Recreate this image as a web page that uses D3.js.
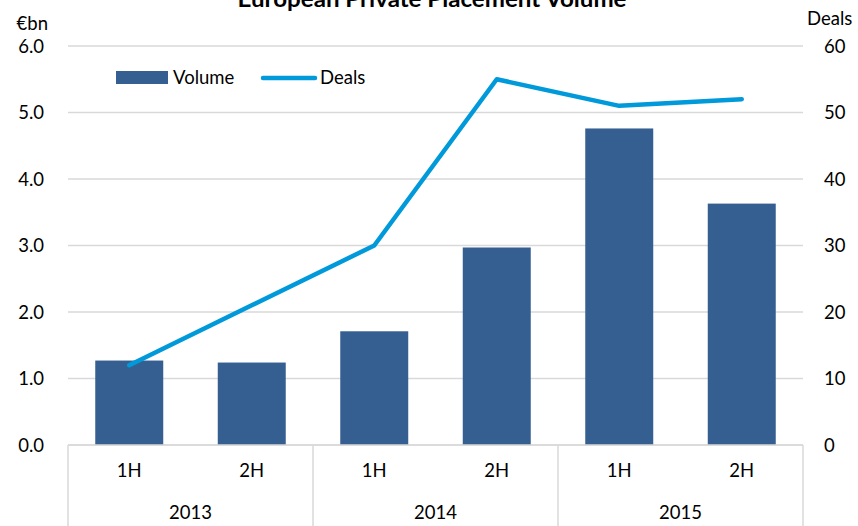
<!DOCTYPE html>
<html><head><meta charset="utf-8">
<script src="https://cdn.jsdelivr.net/npm/d3@7"></script>
<style>body{margin:0;background:#fff}svg{display:block}text{font-family:Lato,"Open Sans",sans-serif;fill:#000}</style>
</head><body><svg id="c" width="858" height="526"></svg>
<script>
const halves = ["1H","2H","1H","2H","1H","2H"];
const years = ["2013","2014","2015"];
const volume = [1.27, 1.24, 1.71, 2.97, 4.76, 3.63];
const deals = [12, 21, 30, 55, 51, 52];
const leftTicks = [0,1,2,3,4,5,6];
const rightTicks = [0,10,20,30,40,50,60];

const FS = 18.5;
const svg = d3.select("#c");
const L = 68, R = 803, T = 46, B = 445;
const idx = d3.range(halves.length);
const x = d3.scaleBand().domain(idx).range([L,R]).paddingInner(0.445).paddingOuter(0.2225);
const xb = d3.scaleBand().domain(idx).range([L,R]);
const yL = d3.scaleLinear().domain([0,6]).range([B,T]);
const yR = d3.scaleLinear().domain([0,60]).range([B,T]);

// gridlines
svg.append("g").selectAll("line").data(leftTicks).join("line")
  .attr("x1",L).attr("x2",R).attr("y1",d=>yL(d)).attr("y2",d=>yL(d))
  .attr("stroke","#d9d9d9").attr("stroke-width",1.5);

// bars
svg.append("g").selectAll("rect").data(volume).join("rect")
  .attr("x",(d,i)=>x(i)).attr("width",x.bandwidth())
  .attr("y",d=>yL(d)).attr("height",d=>B-yL(d)).attr("fill","#355F91");

// line
const line = d3.line().x((d,i)=>xb(i)+xb.bandwidth()/2).y(d=>yR(d));
svg.append("path").datum(deals).attr("d",line).attr("fill","none")
  .attr("stroke","#0099DA").attr("stroke-width",4.5).attr("stroke-linecap","round").attr("stroke-linejoin","round");

// left axis
svg.append("g").attr("transform",`translate(${L-21},0)`)
  .call(d3.axisLeft(yL).tickValues(leftTicks).tickFormat(d3.format(".1f")).tickSize(0))
  .call(g=>g.select(".domain").remove())
  .call(g=>g.selectAll("text").attr("font-size",FS).attr("font-family","Lato").attr("dy","0.35em"));
// right axis
svg.append("g").attr("transform",`translate(${R+18},0)`)
  .call(d3.axisRight(yR).tickValues(rightTicks).tickSize(0))
  .call(g=>g.select(".domain").remove())
  .call(g=>g.selectAll("text").attr("font-size",FS).attr("font-family","Lato").attr("dy","0.35em"));

svg.append("text").attr("x",48).attr("y",30).attr("text-anchor","end").attr("font-size",FS).text("€bn");
svg.append("text").attr("x",807).attr("y",25).attr("font-size",FS).text("Deals");

// category axis
svg.append("line").attr("x1",L).attr("x2",R).attr("y1",B).attr("y2",B).attr("stroke","#d9d9d9").attr("stroke-width",1.5);
const sepIdx = [0,2,4,6];
svg.append("g").selectAll("line").data(sepIdx).join("line")
  .attr("x1",d=>L + d*xb.bandwidth()).attr("x2",d=>L + d*xb.bandwidth())
  .attr("y1",B).attr("y2",526).attr("stroke","#d9d9d9").attr("stroke-width",1.5);
svg.append("g").selectAll("text").data(halves).join("text")
  .attr("x",(d,i)=>xb(i)+xb.bandwidth()/2).attr("y",477).attr("text-anchor","middle").attr("font-size",FS).text(d=>d);
svg.append("g").selectAll("text").data(years).join("text")
  .attr("x",(d,i)=>xb(i*2+1)).attr("y",519).attr("text-anchor","middle").attr("font-size",FS).text(d=>d);

// title
svg.append("text").attr("x",432).attr("y",7).attr("text-anchor","middle").attr("font-size",23)
  .attr("font-weight","bold").attr("textLength",389).attr("lengthAdjust","spacingAndGlyphs")
  .text("European Private Placement Volume");

// legend
svg.append("rect").attr("x",116).attr("y",71).attr("width",52).attr("height",13).attr("fill","#355F91");
svg.append("text").attr("x",173).attr("y",84).attr("font-size",FS).text("Volume");
svg.append("line").attr("x1",263).attr("x2",315).attr("y1",78).attr("y2",78).attr("stroke","#0099DA").attr("stroke-width",4.5).attr("stroke-linecap","round");
svg.append("text").attr("x",320).attr("y",84).attr("font-size",FS).text("Deals");
</script></body></html>
